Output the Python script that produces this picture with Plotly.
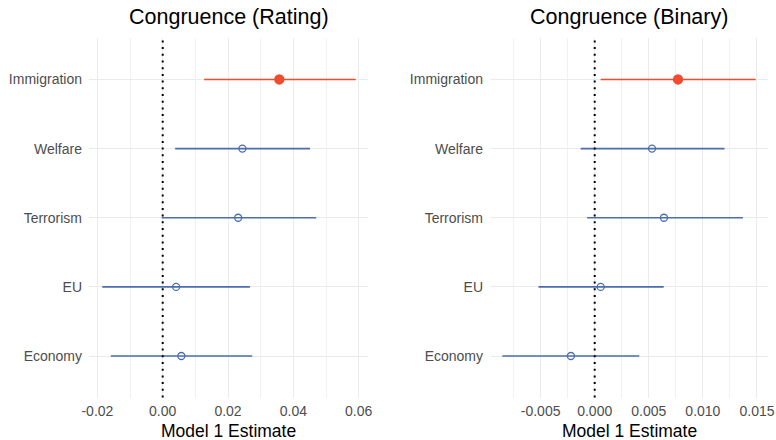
import plotly.graph_objects as go

# Issue categories, bottom to top
issues = ["Economy", "EU", "Terrorism", "Welfare", "Immigration"]
highlight = ["Immigration"]

# Congruence (Rating): estimate with lower / upper interval bounds
rating_est = [0.0057, 0.0041, 0.0231, 0.0244, 0.0357]
rating_lo = [-0.0159, -0.0185, -0.0003, 0.0038, 0.0127]
rating_hi = [0.0274, 0.0267, 0.0470, 0.0451, 0.0591]
rating_ticks = [-0.02, 0.0, 0.02, 0.04, 0.06]
rating_ticktext = ["-0.02", "0.00", "0.02", "0.04", "0.06"]

# Congruence (Binary): estimate with lower / upper interval bounds
binary_est = [-0.0022, 0.00055, 0.0064, 0.0053, 0.0077]
binary_lo = [-0.00854, -0.0052, -0.0007, -0.0013, 0.00055]
binary_hi = [0.00412, 0.00638, 0.0137, 0.0120, 0.01488]
binary_ticks = [-0.005, 0.0, 0.005, 0.010, 0.015]
binary_ticktext = ["-0.005", "0.000", "0.005", "0.010", "0.015"]

panel_titles = ["Congruence (Rating)", "Congruence (Binary)"]
x_title = "Model 1 Estimate"

RED = "#F04B2F"
BLUE = "#4A6DB0"
GRID = "#EBEBEB"
FONT = "Liberation Sans, Arial, sans-serif"

W, H = 776, 440
panels = [
    dict(est=rating_est, lo=rating_lo, hi=rating_hi, xref="x", yref="y",
         px=(89, 368), rng=[-0.02257, 0.06286], dtick=0.02,
         ticks=rating_ticks, ticktext=rating_ticktext),
    dict(est=binary_est, lo=binary_lo, hi=binary_hi, xref="x2", yref="y2",
         px=(490, 768), rng=[-0.00968, 0.01602], dtick=0.005,
         ticks=binary_ticks, ticktext=binary_ticktext),
]
y_dom = [(H - 397.5) / H, (H - 38) / H]

fig = go.Figure()

for i, p in enumerate(panels):
    for flag in (False, True):
        idx = [k for k in range(len(issues)) if (issues[k] in highlight) == flag]
        if not idx:
            continue
        est = [p["est"][k] for k in idx]
        color = RED if flag else BLUE
        fig.add_trace(go.Scatter(
            x=est,
            y=[issues[k] for k in idx],
            mode="markers",
            xaxis=p["xref"], yaxis=p["yref"],
            marker=dict(
                symbol="circle" if flag else "circle-open",
                size=9 if flag else 7,
                color=color,
                line=dict(color=color, width=1.3),
            ),
            error_x=dict(
                type="data", symmetric=False,
                array=[p["hi"][k] - p["est"][k] for k in idx],
                arrayminus=[p["est"][k] - p["lo"][k] for k in idx],
                color=color, thickness=1.6, width=0,
            ),
            showlegend=False,
            hoverinfo="skip",
        ))

    # reference line at zero
    fig.add_shape(type="line", xref=p["xref"], yref="paper",
                  x0=0, x1=0, y0=y_dom[0], y1=y_dom[1],
                  line=dict(color="black", width=2, dash="2px,4.7px"),
                  layer="above")

    cx = (p["px"][0] + p["px"][1]) / 2 / W
    fig.add_annotation(text=panel_titles[i], x=cx, y=(H - 17) / H,
                       xref="paper", yref="paper", showarrow=False,
                       xanchor="center", yanchor="middle",
                       font=dict(family=FONT, size=21.5, color="black"))
    fig.add_annotation(text=x_title, x=cx, y=(H - 431) / H,
                       xref="paper", yref="paper", showarrow=False,
                       xanchor="center", yanchor="middle",
                       font=dict(family=FONT, size=17.5, color="black"))

axis_common = dict(showline=False, zeroline=False, ticks="", automargin=False,
                   tickfont=dict(family=FONT, size=14, color="#4D4D4D"))

for i, p in enumerate(panels):
    xa = "xaxis" if i == 0 else "xaxis2"
    ya = "yaxis" if i == 0 else "yaxis2"
    fig.update_layout({
        xa: dict(domain=[p["px"][0] / W, p["px"][1] / W], range=p["rng"],
                 anchor=p["yref"], tickmode="array", tickvals=p["ticks"],
                 ticktext=p["ticktext"], showgrid=True, gridcolor=GRID,
                 gridwidth=1.2,
                 minor=dict(dtick=p["dtick"] / 2, tick0=0, showgrid=True,
                            gridcolor="#F1F1F1", gridwidth=1),
                 ticklabelstandoff=3, **axis_common),
        ya: dict(domain=y_dom, anchor=p["xref"], type="category",
                 categoryorder="array", categoryarray=issues,
                 range=[-0.6, len(issues) - 0.4], showgrid=True,
                 gridcolor=GRID, gridwidth=1.2, ticklabelstandoff=6,
                 **axis_common),
    })

fig.update_layout(
    width=W, height=H,
    margin=dict(l=0, r=0, t=0, b=0),
    paper_bgcolor="white", plot_bgcolor="white",
    font=dict(family=FONT),
)

fig.write_html("out.html")
